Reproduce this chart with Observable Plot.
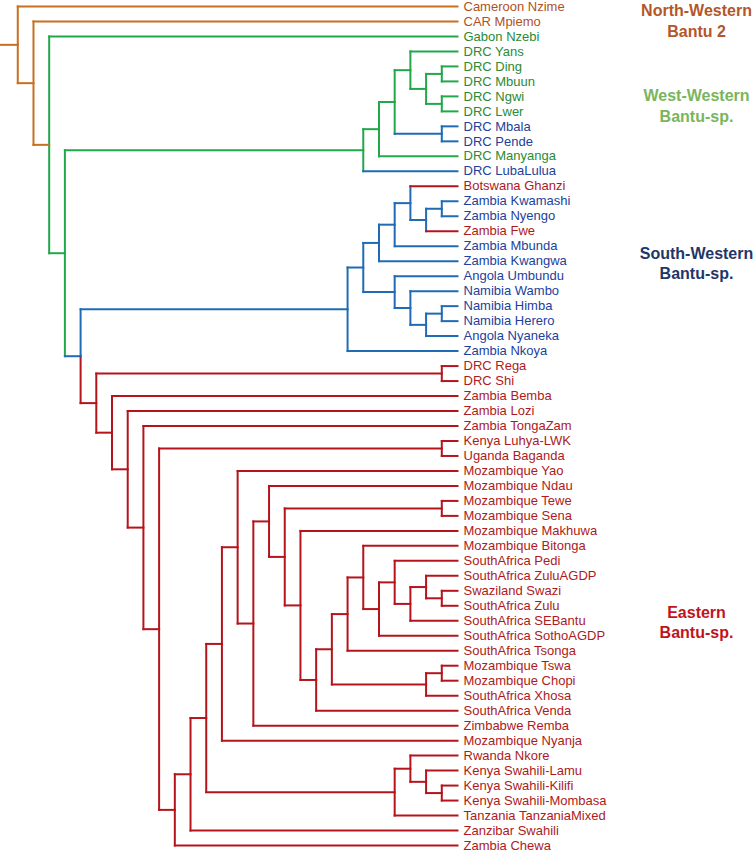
<!DOCTYPE html>
<html><head><meta charset="utf-8">
<script src="https://cdn.jsdelivr.net/npm/d3@7"></script>
<script src="https://cdn.jsdelivr.net/npm/@observablehq/plot@0.6"></script>
<style>html,body{margin:0;padding:0;background:#fff}</style>
</head><body><div id="chart"></div>
<script>
// ---- Leaves (top to bottom) ----
const leaves = [
  "Cameroon Nzime","CAR Mpiemo","Gabon Nzebi","DRC Yans","DRC Ding","DRC Mbuun","DRC Ngwi","DRC Lwer",
  "DRC Mbala","DRC Pende","DRC Manyanga","DRC LubaLulua","Botswana Ghanzi","Zambia Kwamashi","Zambia Nyengo",
  "Zambia Fwe","Zambia Mbunda","Zambia Kwangwa","Angola Umbundu","Namibia Wambo","Namibia Himba","Namibia Herero",
  "Angola Nyaneka","Zambia Nkoya","DRC Rega","DRC Shi","Zambia Bemba","Zambia Lozi","Zambia TongaZam",
  "Kenya Luhya-LWK","Uganda Baganda","Mozambique Yao","Mozambique Ndau","Mozambique Tewe","Mozambique Sena",
  "Mozambique Makhuwa","Mozambique Bitonga","SouthAfrica Pedi","SouthAfrica ZuluAGDP","Swaziland Swazi",
  "SouthAfrica Zulu","SouthAfrica SEBantu","SouthAfrica SothoAGDP","SouthAfrica Tsonga","Mozambique Tswa",
  "Mozambique Chopi","SouthAfrica Xhosa","SouthAfrica Venda","Zimbabwe Remba","Mozambique Nyanja","Rwanda Nkore",
  "Kenya Swahili-Lamu","Kenya Swahili-Kilifi","Kenya Swahili-Mombasa","Tanzania TanzaniaMixed","Zanzibar Swahili",
  "Zambia Chewa"
];
// clade of each leaf: NW = North-Western, WW = West-Western, SW = South-Western, E = Eastern
const leafClade = [
  "NW","NW","WW","WW","WW","WW","WW","WW","SW","SW","WW","SW","E","SW","SW","E","SW","SW","SW","SW","SW","SW",
  "SW","SW","E","E","E","E","E","E","E","E","E","E","E","E","E","E","E","E","E","E","E","E","E","E","E","E",
  "E","E","E","E","E","E","E","E","E"
];
// ---- Merges: [id, upper child, lower child, height, clade of incoming branch, clade of vertical ("up|down" = split)] ----
const merges = [
  ["a1","DRC Ding","DRC Mbuun",1,"WW","WW"],
  ["a2","DRC Ngwi","DRC Lwer",1,"WW","WW"],
  ["a3","a1","a2",2,"WW","WW"],
  ["a4","DRC Yans","a3",3,"WW","WW"],
  ["a5","DRC Mbala","DRC Pende",1,"SW","SW"],
  ["a6","a4","a5",4,"WW","WW"],
  ["a7","a6","DRC Manyanga",5,"WW","WW"],
  ["a8","a7","DRC LubaLulua",6,"WW","WW"],
  ["b1","Zambia Kwamashi","Zambia Nyengo",1,"SW","SW"],
  ["b2","b1","Zambia Fwe",2,"SW","SW"],
  ["b3","Botswana Ghanzi","b2",3,"SW","SW"],
  ["b4","b3","Zambia Mbunda",4,"SW","SW"],
  ["b5","b4","Zambia Kwangwa",5,"SW","SW"],
  ["b6","Namibia Himba","Namibia Herero",1,"SW","SW"],
  ["b7","b6","Angola Nyaneka",2,"SW","SW"],
  ["b8","Namibia Wambo","b7",3,"SW","SW"],
  ["b9","Angola Umbundu","b8",4,"SW","SW"],
  ["b10","b5","b9",6,"SW","SW"],
  ["b11","b10","Zambia Nkoya",7,"SW","SW"],
  ["c1","DRC Rega","DRC Shi",1,"E","E"],
  ["c2","Kenya Luhya-LWK","Uganda Baganda",1,"E","E"],
  ["c3","Mozambique Tewe","Mozambique Sena",1,"E","E"],
  ["c4","Swaziland Swazi","SouthAfrica Zulu",1,"E","E"],
  ["c5","SouthAfrica ZuluAGDP","c4",2,"E","E"],
  ["c6","c5","SouthAfrica SEBantu",3,"E","E"],
  ["c7","SouthAfrica Pedi","c6",4,"E","E"],
  ["c8","c7","SouthAfrica SothoAGDP",5,"E","E"],
  ["c9","Mozambique Bitonga","c8",6,"E","E"],
  ["c10","c9","SouthAfrica Tsonga",7,"E","E"],
  ["c11","Mozambique Tswa","Mozambique Chopi",1,"E","E"],
  ["c12","c11","SouthAfrica Xhosa",2,"E","E"],
  ["c13","c10","c12",8,"E","E"],
  ["c14","c13","SouthAfrica Venda",9,"E","E"],
  ["c15","Mozambique Makhuwa","c14",10,"E","E"],
  ["c16","c3","c15",11,"E","E"],
  ["c17","Mozambique Ndau","c16",12,"E","E"],
  ["c18","c17","Zimbabwe Remba",13,"E","E"],
  ["c19","Mozambique Yao","c18",14,"E","E"],
  ["c20","c19","Mozambique Nyanja",15,"E","E"],
  ["c21","Kenya Swahili-Kilifi","Kenya Swahili-Mombasa",1,"E","E"],
  ["c22","Kenya Swahili-Lamu","c21",2,"E","E"],
  ["c23","Rwanda Nkore","c22",3,"E","E"],
  ["c24","c23","Tanzania TanzaniaMixed",4,"E","E"],
  ["c25","c20","c24",16,"E","E"],
  ["c26","c25","Zanzibar Swahili",17,"E","E"],
  ["c27","c26","Zambia Chewa",18,"E","E"],
  ["c28","c2","c27",19,"E","E"],
  ["c29","Zambia TongaZam","c28",20,"E","E"],
  ["c30","Zambia Lozi","c29",21,"E","E"],
  ["c31","Zambia Bemba","c30",22,"E","E"],
  ["c32","c1","c31",23,"E","E"],
  ["d1","b11","c32",24,"SW","SW|E"],
  ["d2","a8","d1",25,"WW","WW"],
  ["d3","Gabon Nzebi","d2",26,"NW","WW"],
  ["d4","CAR Mpiemo","d3",27,"NW","NW"],
  ["d5","Cameroon Nzime","d4",28,"NW","NW"]
];
const rootStubHeight = 29.1;

// ---- Group labels ----
const groupLabels = ["North-Western\nBantu 2","West-Western\nBantu-sp.","South-Western\nBantu-sp.","Eastern\nBantu-sp."];
const groupLabelClade = ["NW","WW","SW","E"];
const groupLabelRow = [0.9, 6.56, 17.1, 41.06];

// ---- Styles ----
const lineColor = {NW:"#c8701e", WW:"#23a74b", SW:"#1f6cb4", E:"#b5141c"};
const textColor = {NW:"#b0521d", WW:"#2a8a35", SW:"#213f9c", E:"#ad1a22"};
const labelColor = {NW:"#b3572a", WW:"#7ab55c", SW:"#1f3766", E:"#c0141c"};

// ---- Build dendrogram segments ----
const nodeY = new Map(leaves.map((n,i)=>[n,i]));
const nodeH = new Map(leaves.map(n=>[n,0]));
const nodeIn = new Map(leaves.map((n,i)=>[n,leafClade[i]]));
const verts = [], horiz = [];
let rootId = null;
for (const [id,a,b,h,inKey,vKey] of merges) {
  const ya = nodeY.get(a), yb = nodeY.get(b), y = (ya+yb)/2;
  nodeY.set(id,y); nodeH.set(id,h); nodeIn.set(id,inKey);
  for (const c of [a,b]) horiz.push({x1:h, x2:nodeH.get(c), y1:nodeY.get(c), y2:nodeY.get(c), key:nodeIn.get(c)});
  if (vKey.includes("|")) {
    const [up,down] = vKey.split("|");
    verts.push({x1:h,x2:h,y1:ya,y2:y,key:up});
    verts.push({x1:h,x2:h,y1:y,y2:yb,key:down});
  } else {
    verts.push({x1:h,x2:h,y1:ya,y2:yb,key:vKey});
  }
  rootId = id;
}
horiz.push({x1:rootStubHeight, x2:nodeH.get(rootId), y1:nodeY.get(rootId), y2:nodeY.get(rootId), key:nodeIn.get(rootId)});

const font = "'Liberation Sans', Arial, Helvetica, sans-serif";
const chart = Plot.plot({
  width: 756, height: 852,
  marginLeft: 0, marginRight: 299, marginTop: 6, marginBottom: 7,
  x: {domain: [rootStubHeight, 0], axis: null},
  y: {domain: [0, leaves.length - 1], reverse: true, axis: null},
  color: {type: "identity"},
  style: {fontFamily: font, background: "#fff", overflow: "visible"},
  marks: [
    Plot.link(verts, {x1:"x1", x2:"x2", y1:"y1", y2:"y2", stroke: d=>lineColor[d.key], strokeWidth: 2, strokeLinecap: "square"}),
    Plot.link(horiz, {x1:"x1", x2:"x2", y1:"y1", y2:"y2", stroke: d=>lineColor[d.key], strokeWidth: 2, strokeLinecap: "square"}),
    Plot.text(leaves, {x: 0, y: (d,i)=>i, text: d=>d, textAnchor: "start", dx: 6, fontSize: 13,
      fill: (d,i)=>textColor[leafClade[i]]}),
    Plot.text(groupLabels, {x: 0, y: (d,i)=>groupLabelRow[i], text: d=>d, textAnchor: "middle", dx: 239,
      fontSize: 16, fontWeight: "bold", lineHeight: 1.28, fill: (d,i)=>labelColor[groupLabelClade[i]]})
  ]
});
document.getElementById("chart").appendChild(chart);
</script>
</body></html>
